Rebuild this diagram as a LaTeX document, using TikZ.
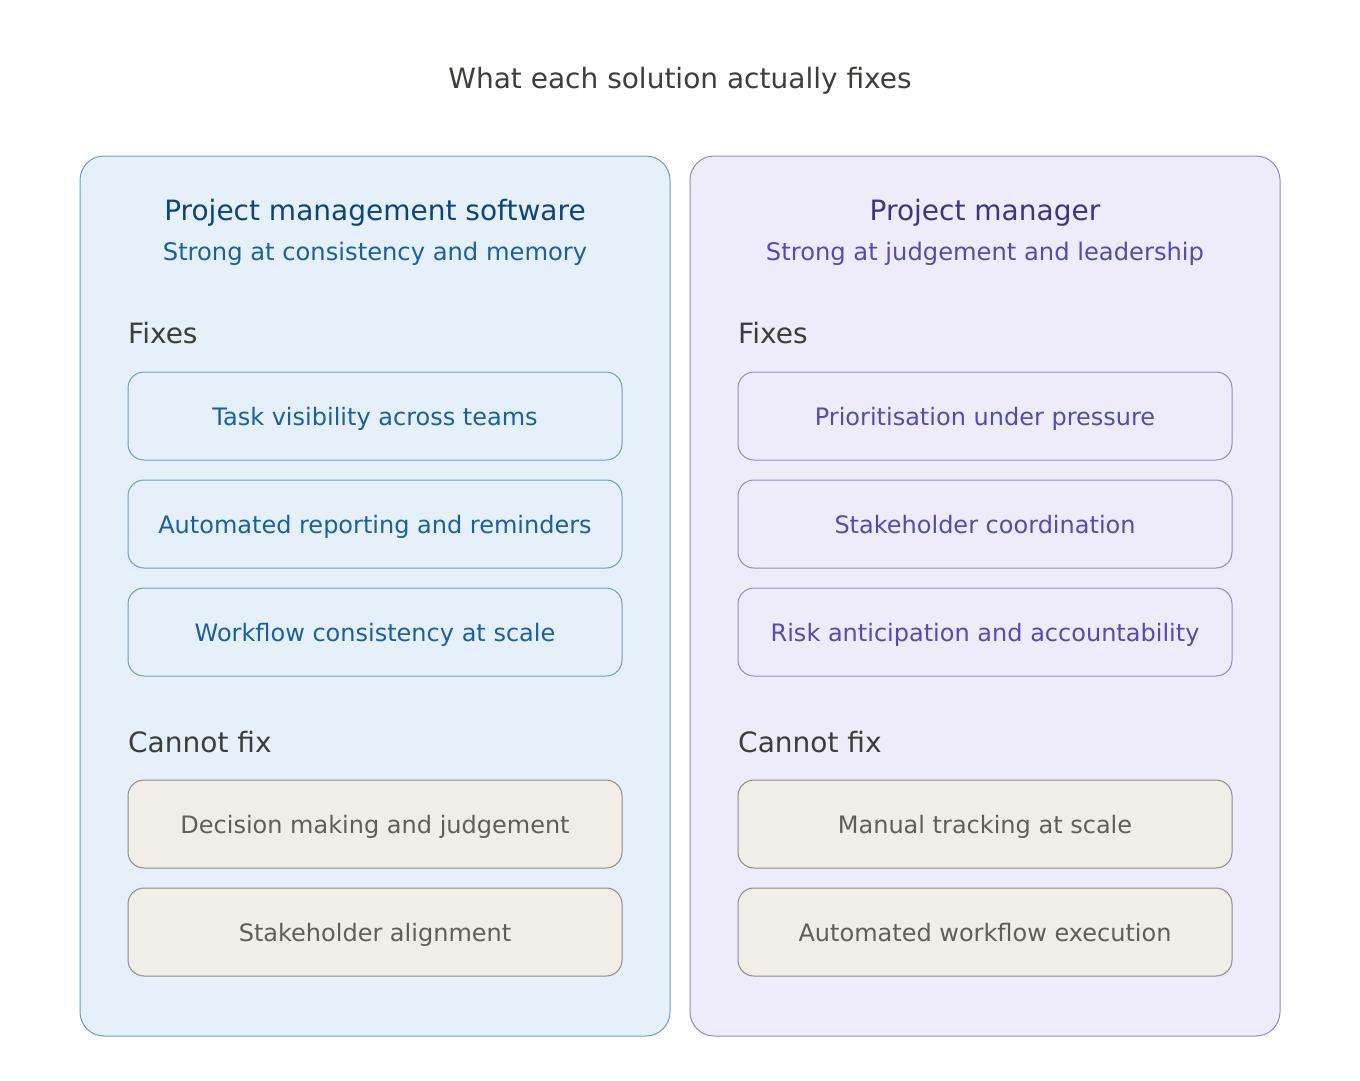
\documentclass[tikz,border=0pt]{standalone}
\usepackage{fontspec}
\setmainfont{DejaVu Sans}
\definecolor{bluefill}{HTML}{E6F0FA}
\definecolor{bluestroke}{HTML}{6A9BD0}
\definecolor{bluehead}{HTML}{0C447C}
\definecolor{bluetext}{HTML}{185FA5}
\definecolor{purpfill}{HTML}{EEECFB}
\definecolor{purpstroke}{HTML}{8F86D8}
\definecolor{purphead}{HTML}{3C3489}
\definecolor{purptext}{HTML}{534AB7}
\definecolor{greyfill}{HTML}{F1EEE8}
\definecolor{greystroke}{HTML}{8C8B86}
\definecolor{greytext}{HTML}{5F5E5A}
\definecolor{darktext}{HTML}{3D3D3A}
\tikzset{
  panel/.style={draw, line width=1pt, rounded corners=24pt},
  itembox/.style={draw, line width=1pt, rounded corners=16pt, minimum width=494pt, minimum height=88pt, inner sep=0pt},
  itemtext/.style={anchor=base, inner sep=0pt, font=\fontsize{24}{28}\selectfont},
  bluebox/.style={itembox, fill=bluefill, draw=bluestroke},
  purpbox/.style={itembox, fill=purpfill, draw=purpstroke},
  greybox/.style={itembox, fill=greyfill, draw=greystroke},
  section/.style={anchor=base west, inner sep=0pt, text=darktext, font=\fontsize{28}{32}\selectfont},
  head/.style={anchor=base, inner sep=0pt, font=\fontsize{28}{32}\selectfont},
  sub/.style={anchor=base, inner sep=0pt, font=\fontsize{24.2}{28}\selectfont},
}
\begin{document}
\begin{tikzpicture}[x=1pt,y=-1pt]
\useasboundingbox (0,0) rectangle (1360,1080);
\node[anchor=base, text=darktext, font=\fontsize{28}{32}\selectfont, inner sep=0pt] (title) at (680,88) {What each solution actually fixes};

\draw[panel, fill=bluefill, draw=bluestroke] (80,156) rectangle (670,1036);
\draw[panel, fill=purpfill, draw=purpstroke] (690,156) rectangle (1280,1036);

\node[head, text=bluehead] (lh) at (375,220) {Project management software};
\node[sub, text=bluetext] (ls) at (375,260) {Strong at consistency and memory};
\node[head, text=purphead] (rh) at (985,220) {Project manager};
\node[sub, text=purptext] (rs) at (985,260) {Strong at judgement and leadership};

\node[section] (lf) at (128,343) {Fixes};
\node[section] (rf) at (738,343) {Fixes};
\node[section] (lc) at (128,752) {Cannot fix};
\node[section] (rc) at (738,752) {Cannot fix};

\node[bluebox] (l1) at (375,416) {};
\node[bluebox] (l2) at (375,524) {};
\node[bluebox] (l3) at (375,632) {};
\node[greybox] (l4) at (375,824) {};
\node[greybox] (l5) at (375,932) {};
\node[purpbox] (r1) at (985,416) {};
\node[purpbox] (r2) at (985,524) {};
\node[purpbox] (r3) at (985,632) {};
\node[greybox] (r4) at (985,824) {};
\node[greybox] (r5) at (985,932) {};

\node[itemtext, text=bluetext] (l1t) at ([yshift=-9pt]l1.center) {Task visibility across teams};
\node[itemtext, text=bluetext] (l2t) at ([yshift=-9pt]l2.center) {Automated reporting and reminders};
\node[itemtext, text=bluetext] (l3t) at ([yshift=-9pt]l3.center) {Workflow consistency at scale};
\node[itemtext, text=greytext] (l4t) at ([yshift=-9pt]l4.center) {Decision making and judgement};
\node[itemtext, text=greytext] (l5t) at ([yshift=-9pt]l5.center) {Stakeholder alignment};
\node[itemtext, text=purptext] (r1t) at ([yshift=-9pt]r1.center) {Prioritisation under pressure};
\node[itemtext, text=purptext] (r2t) at ([yshift=-9pt]r2.center) {Stakeholder coordination};
\node[itemtext, text=purptext] (r3t) at ([yshift=-9pt]r3.center) {Risk anticipation and accountability};
\node[itemtext, text=greytext] (r4t) at ([yshift=-9pt]r4.center) {Manual tracking at scale};
\node[itemtext, text=greytext] (r5t) at ([yshift=-9pt]r5.center) {Automated workflow execution};
\end{tikzpicture}
\end{document}
